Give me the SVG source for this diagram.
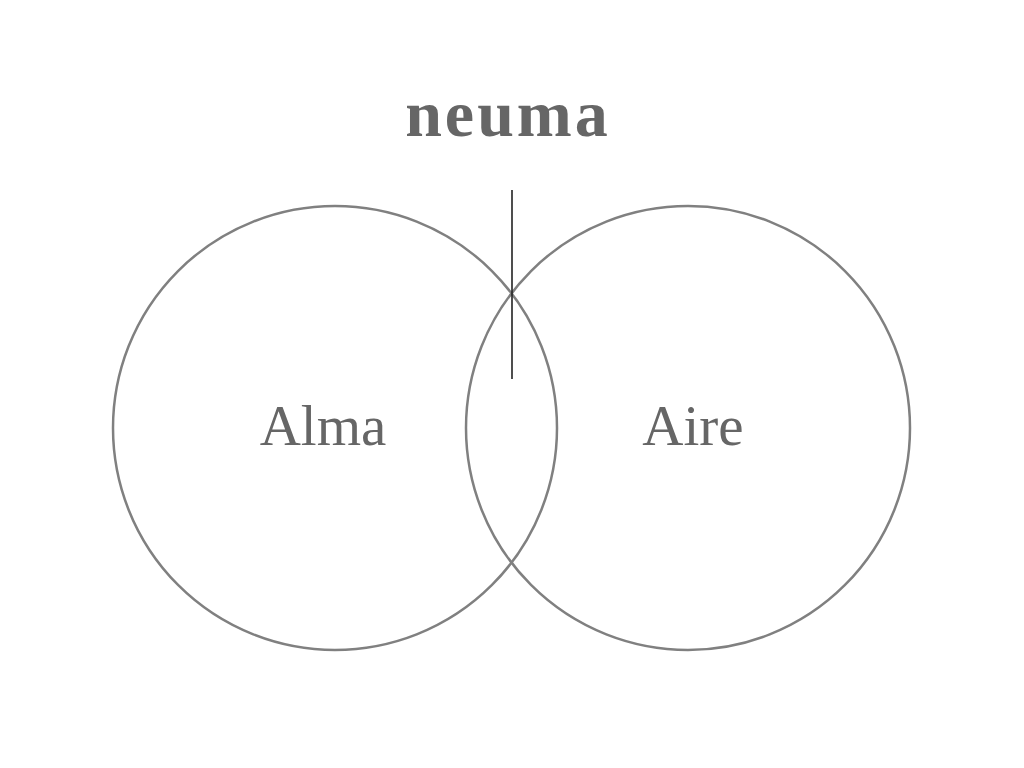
<svg xmlns="http://www.w3.org/2000/svg" width="1024" height="768" viewBox="0 0 1024 768">
<style>
.c{fill:none;stroke:#808080;stroke-width:2.5}
.t{font-family:"Liberation Serif",serif;fill:#666;text-anchor:middle}
</style>
<rect width="1024" height="768" fill="#fff"/>
<g id="title"><text class="t" x="508" y="136" font-size="66" font-weight="bold" letter-spacing="3">neuma</text></g>
<g id="alma"><circle class="c" cx="335" cy="428" r="222"/><text class="t" x="323" y="445" font-size="57">Alma</text></g>
<g id="aire"><circle class="c" cx="688" cy="428" r="222"/><text class="t" x="693" y="445" font-size="57">Aire</text></g>
<g id="connectors"><line x1="512" y1="190" x2="512" y2="379" stroke="#222" stroke-width="1.6"/></g>
</svg>
